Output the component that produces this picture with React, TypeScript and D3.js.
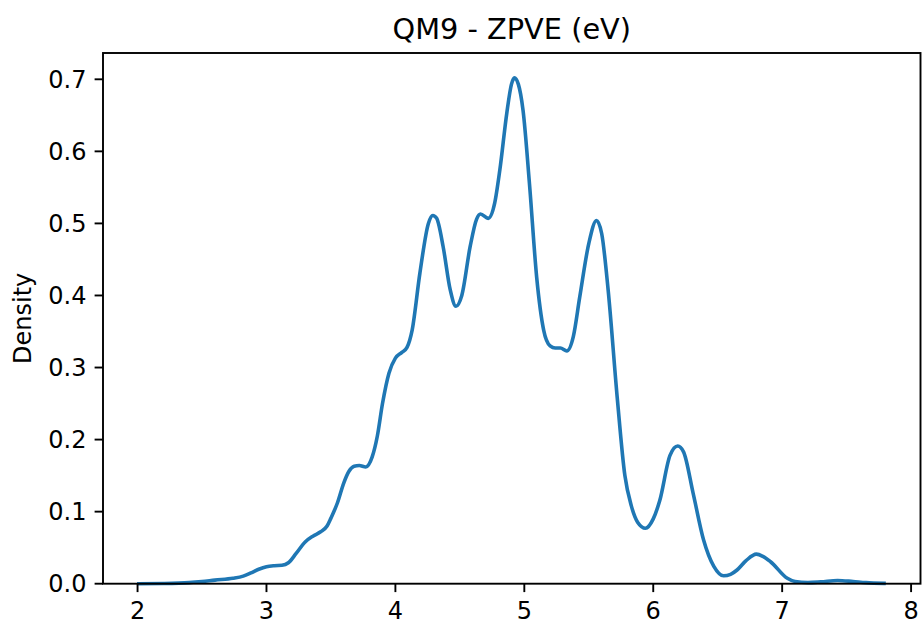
import React from "react";
import * as d3 from "d3";

// Kernel density estimate of ZPVE (eV) values, sampled along the energy axis
const energy = [
  2.01, 2.2, 2.4, 2.5, 2.6, 2.74, 2.82, 2.88, 2.94, 3.0, 3.06, 3.12, 3.17, 3.23, 3.3, 3.36,
  3.42, 3.47, 3.5, 3.55, 3.6, 3.64, 3.68, 3.72, 3.77, 3.82, 3.86, 3.9, 3.95, 4.0, 4.05, 4.09,
  4.13, 4.19, 4.256, 4.29, 4.32, 4.37, 4.425, 4.47, 4.515, 4.58, 4.63, 4.66, 4.72, 4.77, 4.81,
  4.864, 4.9, 4.923, 4.954, 4.99, 5.04, 5.096, 5.15, 5.2, 5.24, 5.28, 5.33, 5.38, 5.43, 5.5,
  5.56, 5.6, 5.65, 5.72, 5.78, 5.83, 5.88, 5.94, 6.0, 6.05, 6.13, 6.19, 6.235, 6.31, 6.39,
  6.47, 6.546, 6.6, 6.65, 6.72, 6.8, 6.85, 6.91, 7.04, 7.1, 7.2, 7.3, 7.43, 7.55, 7.65, 7.79,
];
const density = [
  0.0, 0.0003, 0.0015, 0.003, 0.005, 0.0075, 0.0105, 0.015, 0.02, 0.0236, 0.025, 0.0255, 0.029,
  0.042, 0.058, 0.066, 0.072, 0.08, 0.091, 0.112, 0.14, 0.156, 0.163, 0.164, 0.162, 0.176, 0.205,
  0.25, 0.292, 0.313, 0.321, 0.328, 0.352, 0.431, 0.5, 0.511, 0.507, 0.468, 0.408, 0.385, 0.4,
  0.468, 0.506, 0.513, 0.507, 0.528, 0.574, 0.653, 0.693, 0.702, 0.693, 0.657, 0.555, 0.425,
  0.352, 0.33, 0.327, 0.327, 0.323, 0.343, 0.398, 0.472, 0.504, 0.486, 0.408, 0.2595, 0.15,
  0.108, 0.085, 0.077, 0.09, 0.115, 0.178, 0.191, 0.183, 0.125, 0.061, 0.024, 0.011, 0.013,
  0.019, 0.032, 0.041, 0.038, 0.0305, 0.0075, 0.003, 0.0015, 0.0025, 0.0045, 0.003, 0.0015,
  0.0005,
];

const xTicks = [2, 3, 4, 5, 6, 7, 8];
const yTicks = [0, 0.1, 0.2, 0.3, 0.4, 0.5, 0.6, 0.7];

const W = 922;
const H = 625;
const left = 103;
const right = 920.5;
const top = 53;
const bottom = 583.7;
const FONT = "'DejaVu Sans', sans-serif";

export default function App() {
  const x = d3.scaleLinear().domain([1.732, 8.073]).range([left, right]);
  const y = d3.scaleLinear().domain([0, 0.7365]).range([bottom, top]);

  const pts: [number, number][] = energy.map((e, i) => [e, density[i]]);
  const line = d3
    .line<[number, number]>()
    .x((d) => x(d[0]))
    .y((d) => y(d[1]))
    .curve(d3.curveMonotoneX);

  return (
    <svg
      width={W}
      height={H}
      style={{ position: "absolute", left: 0, top: 0, background: "#fff" }}
      fontFamily={FONT}
    >
      <rect x={0} y={0} width={W} height={H} fill="#fff" />
      <path d={line(pts) || ""} fill="none" stroke="#1f77b4" strokeWidth={3.6} strokeLinejoin="round" strokeLinecap="square" />

      {/* axes frame */}
      <rect x={left} y={top} width={right - left} height={bottom - top} fill="none" stroke="#000" strokeWidth={1.9} />

      {/* x axis ticks */}
      {xTicks.map((t) => (
        <g key={`x${t}`}>
          <line x1={x(t)} x2={x(t)} y1={bottom} y2={bottom + 8.4} stroke="#000" strokeWidth={1.9} />
          <text x={x(t)} y={619} textAnchor="middle" fontSize={24} fill="#000">
            {t}
          </text>
        </g>
      ))}

      {/* y axis ticks */}
      {yTicks.map((t) => (
        <g key={`y${t}`}>
          <line x1={left - 8.4} x2={left} y1={y(t)} y2={y(t)} stroke="#000" strokeWidth={1.9} />
          <text x={left - 16.5} y={y(t) + 8.7} textAnchor="end" fontSize={24} fill="#000">
            {t.toFixed(1)}
          </text>
        </g>
      ))}

      <text
        transform={`translate(31, ${(top + bottom) / 2}) rotate(-90)`}
        textAnchor="middle"
        fontSize={24}
        fill="#000"
      >
        Density
      </text>

      <text x={(left + right) / 2} y={39} textAnchor="middle" fontSize={28.8} fill="#000">
        QM9 - ZPVE (eV)
      </text>
    </svg>
  );
}
